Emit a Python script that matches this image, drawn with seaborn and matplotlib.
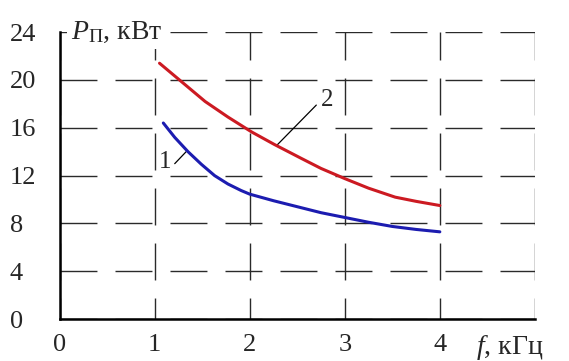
import numpy as np
import pandas as pd
import seaborn as sns
import matplotlib.pyplot as plt

# curve 1 (blue) and curve 2 (red)
f1 = [1.09, 1.21, 1.35, 1.49, 1.63, 1.77, 1.91, 2.0, 2.25, 2.5, 2.75, 3.0, 3.25, 3.5, 3.75, 4.0]
p1 = [16.4, 15.2, 14.0, 12.95, 12.0, 11.3, 10.75, 10.45, 9.9, 9.4, 8.9, 8.5, 8.1, 7.75, 7.5, 7.3]
f2 = [1.05, 1.26, 1.53, 1.77, 2.02, 2.26, 2.54, 2.75, 3.0, 3.25, 3.53, 3.75, 4.0]
p2 = [21.4, 20.0, 18.2, 16.9, 15.65, 14.6, 13.45, 12.6, 11.75, 10.95, 10.2, 9.85, 9.5]

xticks = [0, 1, 2, 3, 4, 5]
xticklabels = ['0', '1', '2', '3', '4', '']
yticks = [0, 4, 8, 12, 16, 20, 24]

df = pd.DataFrame({
    'f': f1 + f2,
    'P': p1 + p2,
    'curve': ['1'] * len(f1) + ['2'] * len(f2),
})

sns.set_style('white')
plt.rcParams['font.family'] = ['Liberation Serif', 'DejaVu Serif']
plt.rcParams['mathtext.fontset'] = 'custom'
plt.rcParams['mathtext.rm'] = 'Liberation Serif'
plt.rcParams['mathtext.it'] = 'Liberation Serif:italic'
plt.rcParams['lines.scale_dashes'] = False

fig = plt.figure(figsize=(5.69, 3.61), dpi=100)
ax = fig.add_axes([0.105, 0.116, 0.835, 0.795])

sns.lineplot(data=df, x='f', y='P', hue='curve',
             palette={'1': '#1c1cb0', '2': '#cc1a22'},
             linewidth=2.2, legend=False, sort=False, ax=ax, zorder=4)

ax.set_xlim(0, 5)
ax.set_ylim(0, 24)
ax.set_xticks(xticks)
ax.set_xticklabels(xticklabels)
ax.set_yticks(yticks)
ax.set_xlabel('')
ax.set_ylabel('')

# dashed grid
ax.xaxis.grid(True, color='#2a2a2a', linewidth=1.0, linestyle=(11.5, (26.6, 13)))
ax.yaxis.grid(True, color='#2a2a2a', linewidth=1.0, linestyle=(0, (26.6, 13)))
ax.set_axisbelow(True)

for s in ['top', 'right']:
    ax.spines[s].set_visible(False)
for s in ['left', 'bottom']:
    ax.spines[s].set_linewidth(1.8)
    ax.spines[s].set_color('black')
    ax.spines[s].set_zorder(5)

ax.tick_params(axis='x', length=0, pad=11, labelsize=19)
ax.tick_params(axis='y', length=0, pad=36, labelsize=19)
for lab in ax.get_yticklabels():
    lab.set_horizontalalignment('left')

# axis titles
ax.text(0.12, 24, r'$P_{\mathrm{П}}$, кВт', fontsize=20, ha='left', va='center',
        bbox=dict(facecolor='white', edgecolor='none', pad=3), zorder=6)
ax.text(4.38, -2.35, r'$f$, кГц', fontsize=20, ha='left', va='center', clip_on=False)

# curve numbers with leader lines
ax.text(1.105, 13.15, '1', fontsize=18, ha='center', va='center')
ax.plot([1.21, 1.33], [13.0, 14.0], color='black', linewidth=0.9)
ax.text(2.81, 18.3, '2', fontsize=18, ha='center', va='center')
ax.plot([2.28, 2.70], [14.5, 17.9], color='black', linewidth=0.9)

fig.savefig('out.png', dpi=100)
